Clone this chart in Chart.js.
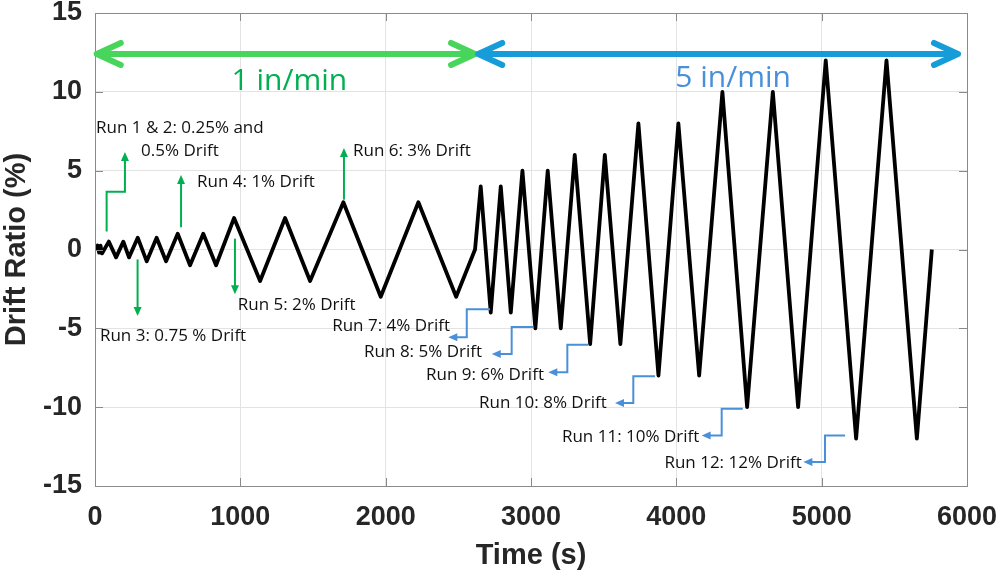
<!DOCTYPE html>
<html>
<head>
<meta charset="utf-8">
<script src="https://cdn.jsdelivr.net/npm/chart.js@4.4.1/dist/chart.umd.min.js"></script>
<style>
  html, body { margin: 0; padding: 0; background: #fff; }
</style>
</head>
<body>
<canvas id="driftChart" width="1000" height="577"></canvas>
<script>
// Loading protocol
const timeS = [0, 10, 18, 28, 38, 48, 95, 145, 195, 234, 294, 356, 424, 489,
  569, 654, 745, 833, 957, 1136, 1308, 1480, 1709, 1966, 2225, 2485, 2615,
  2654, 2723, 2792, 2861, 2941, 3030, 3115, 3205, 3301, 3407, 3508, 3615,
  3739, 3877, 4014, 4157, 4317, 4487, 4664, 4838, 5028, 5237, 5446, 5655, 5758];
const driftPct = [0.15, 0.05, 0.25, -0.2, 0.25, -0.25, 0.5, -0.5, 0.5, -0.5, 0.75, -0.75, 0.75, -0.75,
  1, -1, 1, -1, 2, -2, 2, -2, 3, -3, 3, -3, 0,
  4, -4, 4, -4, 5, -5, 5, -5, 6, -6, 6, -6,
  8, -8, 8, -8, 10, -10, 10, -10, 12, -12, 12, -12, 0];
const xTicks = [0, 1000, 2000, 3000, 4000, 5000, 6000];
const yTicks = [-15, -10, -5, 0, 5, 10, 15];

// Loading rate spans (double arrows across the top)
const rateSpans = [
  { text: '1 in/min', from: 12, to: 2615, y: 12.4, line: '#47d55b', color: '#00b050', tx: 1337, ty: 10.1 },
  { text: '5 in/min', from: 2637, to: 5938, y: 12.4, line: '#169cd8', color: '#4a90d9', tx: 4391, ty: 10.31 }
];

// Run call-outs: path in data units, arrow head at the last point
const greenNotes = [
  { path: [[80, 1.14], [80, 3.66], [206, 3.66], [206, 6.19]] },
  { path: [[592, 1.41], [592, 4.73]] },
  { path: [[1713, 3.16], [1713, 6.44]] },
  { path: [[963, 0.69], [963, -2.84]] },
  { path: [[293, -0.63], [293, -4.21]] }
];
const blueNotes = [
  { path: [[2718, -3.79], [2558, -3.79], [2558, -5.57], [2431, -5.57]] },
  { path: [[3016, -4.91], [2867, -4.91], [2867, -6.63], [2730, -6.63]] },
  { path: [[3394, -6.04], [3250, -6.04], [3250, -7.78], [3119, -7.78]] },
  { path: [[3853, -8.04], [3704, -8.04], [3704, -9.74], [3578, -9.74]] },
  { path: [[4457, -10.1], [4312, -10.1], [4312, -11.79], [4174, -11.79]] },
  { path: [[5161, -11.79], [5023, -11.79], [5023, -13.47], [4874, -13.47]] }
];
const labels = [
  { text: 'Run 1 & 2: 0.25% and', x: 7, y: 7.37, align: 'left' },
  { text: '0.5% Drift', x: 317, y: 5.95, align: 'left' },
  { text: 'Run 4: 1% Drift', x: 702, y: 3.96, align: 'left' },
  { text: 'Run 6: 3% Drift', x: 1775, y: 5.95, align: 'left' },
  { text: 'Run 5: 2% Drift', x: 982, y: -3.85, align: 'left' },
  { text: 'Run 3: 0.75 % Drift', x: 34, y: -5.79, align: 'left' },
  { text: 'Run 7: 4% Drift', x: 2443, y: -5.2, align: 'right' },
  { text: 'Run 8: 5% Drift', x: 2663, y: -6.8, align: 'right' },
  { text: 'Run 9: 6% Drift', x: 3089, y: -8.27, align: 'right' },
  { text: 'Run 10: 8% Drift', x: 3521, y: -10.06, align: 'right' },
  { text: 'Run 11: 10% Drift', x: 4158, y: -12.2, align: 'right' },
  { text: 'Run 12: 12% Drift', x: 4863, y: -13.83, align: 'right' }
];

const axisFont = "'Liberation Sans', Arial, sans-serif";
const noteFont = "'Open Sans', 'Noto Sans', sans-serif";
const inkColor = '#262626';

function drawHead(ctx, from, to, len, half) {
  const ang = Math.atan2(to[1] - from[1], to[0] - from[0]);
  ctx.beginPath();
  ctx.moveTo(to[0], to[1]);
  ctx.lineTo(to[0] - len * Math.cos(ang) + half * Math.sin(ang), to[1] - len * Math.sin(ang) - half * Math.cos(ang));
  ctx.lineTo(to[0] - len * Math.cos(ang) - half * Math.sin(ang), to[1] - len * Math.sin(ang) + half * Math.cos(ang));
  ctx.closePath();
  ctx.fill();
}

function drawCallout(ctx, pts, color, width) {
  const len = 9, half = 4;
  ctx.strokeStyle = color;
  ctx.fillStyle = color;
  ctx.lineWidth = width;
  ctx.lineJoin = 'miter';
  ctx.lineCap = 'butt';
  const n = pts.length;
  const a = pts[n - 2], b = pts[n - 1];
  const d = Math.hypot(b[0] - a[0], b[1] - a[1]);
  const stop = [b[0] - (b[0] - a[0]) * (len - 1) / d, b[1] - (b[1] - a[1]) * (len - 1) / d];
  ctx.beginPath();
  ctx.moveTo(pts[0][0], pts[0][1]);
  for (let i = 1; i < n - 1; i++) ctx.lineTo(pts[i][0], pts[i][1]);
  ctx.lineTo(stop[0], stop[1]);
  ctx.stroke();
  drawHead(ctx, a, b, len, half);
}

const overlayPlugin = {
  id: 'overlay',
  afterDatasetsDraw(chart) {
    const { ctx, chartArea: area, scales: { x, y } } = chart;
    const px = t => x.getPixelForValue(t);
    const py = v => y.getPixelForValue(v);
    ctx.save();

    // frame and inward ticks
    ctx.strokeStyle = '#8a8a8a';
    ctx.lineWidth = 1;
    ctx.strokeRect(Math.round(area.left) + 0.5, Math.round(area.top) + 0.5,
      Math.round(area.right - area.left), Math.round(area.bottom - area.top));
    ctx.beginPath();
    x.ticks.forEach(t => {
      const xp = Math.round(px(t.value)) + 0.5;
      ctx.moveTo(xp, area.bottom); ctx.lineTo(xp, area.bottom - 8);
      ctx.moveTo(xp, area.top); ctx.lineTo(xp, area.top + 8);
    });
    y.ticks.forEach(t => {
      const yp = Math.round(py(t.value)) + 0.5;
      ctx.moveTo(area.left, yp); ctx.lineTo(area.left + 8, yp);
      ctx.moveTo(area.right, yp); ctx.lineTo(area.right - 8, yp);
    });
    ctx.stroke();

    // loading rate double arrows
    rateSpans.forEach(s => {
      const x0 = px(s.from), x1 = px(s.to), yy = py(s.y);
      ctx.strokeStyle = s.line;
      ctx.lineWidth = 6;
      ctx.lineCap = 'round';
      ctx.lineJoin = 'round';
      ctx.beginPath();
      ctx.moveTo(x0, yy); ctx.lineTo(x1, yy);
      ctx.moveTo(x0 + 24, yy - 11); ctx.lineTo(x0, yy); ctx.lineTo(x0 + 24, yy + 11);
      ctx.moveTo(x1 - 24, yy - 11); ctx.lineTo(x1, yy); ctx.lineTo(x1 - 24, yy + 11);
      ctx.stroke();
      ctx.fillStyle = s.color;
      ctx.font = '30px ' + noteFont;
      ctx.textAlign = 'center';
      ctx.textBaseline = 'alphabetic';
      ctx.fillText(s.text, px(s.tx), py(s.ty));
    });

    // call-out arrows
    greenNotes.forEach(n => drawCallout(ctx, n.path.map(p => [px(p[0]), py(p[1])]), '#00b050', 2));
    blueNotes.forEach(n => drawCallout(ctx, n.path.map(p => [px(p[0]), py(p[1])]), '#4a90d9', 2));

    // call-out text
    ctx.fillStyle = '#111';
    ctx.font = '17px ' + noteFont;
    ctx.textBaseline = 'alphabetic';
    labels.forEach(l => {
      ctx.textAlign = l.align;
      ctx.fillText(l.text, px(l.x), py(l.y));
    });
    ctx.restore();
  }
};

new Chart(document.getElementById('driftChart'), {
  type: 'line',
  data: {
    datasets: [{
      label: 'Drift Ratio',
      data: timeS.map((t, i) => ({ x: t, y: driftPct[i] })),
      borderColor: '#000',
      borderWidth: 3.8,
      borderJoinStyle: 'round',
      pointRadius: 0,
      tension: 0,
      fill: false
    }]
  },
  options: {
    responsive: false,
    animation: false,
    devicePixelRatio: 1,
    layout: { padding: { top: 13, right: 33, left: 0, bottom: 0 } },
    plugins: { legend: { display: false }, tooltip: { enabled: false } },
    scales: {
      x: {
        type: 'linear',
        min: 0,
        max: 6000,
        afterBuildTicks: s => { s.ticks = xTicks.map(v => ({ value: v })); },
        afterFit: s => { s.height = 91; s.paddingLeft = 0; s.paddingRight = 0; },
        ticks: {
          autoSkip: false, maxRotation: 0, padding: 15, color: inkColor,
          callback: v => String(v),
          font: { family: axisFont, size: 27, weight: 'bold' }
        },
        grid: { color: '#e3e3e3', drawTicks: false },
        border: { display: false },
        title: {
          display: true, text: 'Time (s)', color: inkColor,
          font: { family: axisFont, size: 29, weight: 'bold' },
          padding: { top: 0, bottom: 4 }
        }
      },
      y: {
        min: -15,
        max: 15,
        afterBuildTicks: s => { s.ticks = yTicks.map(v => ({ value: v })); },
        afterFit: s => { s.width = 95; s.paddingTop = 0; s.paddingBottom = 0; },
        ticks: {
          autoSkip: false, padding: 13, color: inkColor,
          callback: v => String(v),
          font: { family: axisFont, size: 27, weight: 'bold' }
        },
        grid: { color: '#e3e3e3', drawTicks: false },
        border: { display: false },
        title: {
          display: true, text: 'Drift Ratio (%)', color: inkColor,
          font: { family: axisFont, size: 29, weight: 'bold' },
          padding: { top: 0, bottom: 0 }
        }
      }
    }
  },
  plugins: [overlayPlugin]
});
</script>
</body>
</html>
